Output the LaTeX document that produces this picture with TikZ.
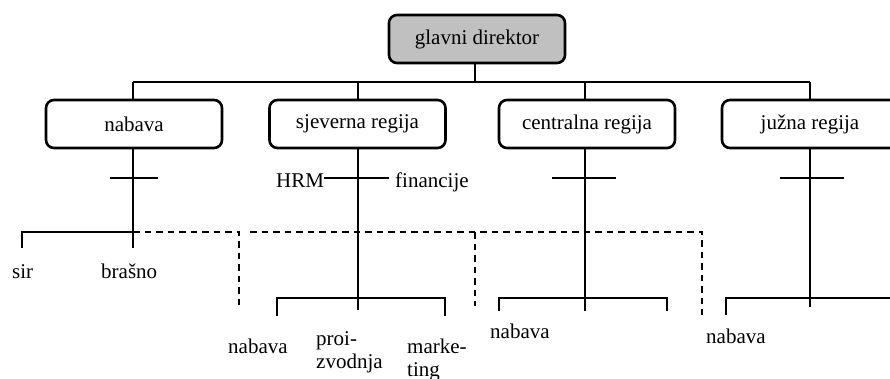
\documentclass[tikz,border=0pt]{standalone}
\usepackage{fontspec}
\setmainfont{Liberation Serif}
\begin{document}
\begin{tikzpicture}[x=1pt,y=-1pt,
  box/.style={draw, line width=2.6pt, rounded corners=8pt, minimum width=176pt, minimum height=48pt, inner sep=0pt, font=\fontsize{21}{24}\selectfont},
  lbl/.style={inner sep=0pt, anchor=base west, font=\fontsize{21}{24}\selectfont},
  conn/.style={line width=1.9pt},
  bar/.style={line width=1.5pt},
  dsh/.style={line width=1.6pt, dash pattern=on 6.5pt off 5pt}]
\useasboundingbox (0,0) rectangle (890,378);
\clip (0,0) rectangle (890,378);
% boxes
\node[box, fill={rgb,255:red,192;green,192;blue,192}] (gd) at (477,39) {glavni direktor};
\node[box] (nab) at (134,124) {nabava};
\node[box] (sje) at (357.5,124) {sjeverna regija};
\node[box] (cen) at (587,124) {centralna regija};
\node[box] (juz) at (810,124) {južna regija};
% top connectors
\coordinate (t0) at (475,82);
\coordinate (tL) at (133,82);
\coordinate (tR) at (810,82);
\draw[conn] (gd.south -| t0) -- (t0);
\draw[conn] (tL) -- (tR);
\draw[conn] (tL) -- (tL |- nab.north);
\draw[conn] (358,82) -- (358,100);
\draw[conn] (585,82) -- (585,100);
\draw[conn] (tR) -- (tR |- juz.north);
% labels
\node[lbl] (sir) at (12,278) {sir};
\node[lbl] (bra) at (101,278) {brašno};
\node[lbl] (hrm) at (276,187) {HRM};
\node[lbl] (fin) at (395,187) {financije};
\node[lbl] (sn) at (228,353) {nabava};
\node[lbl] (sp1) at (316,345) {proi-};
\node[lbl] (sp2) at (316,368) {zvodnja};
\node[lbl] (sm1) at (407,353) {marke-};
\node[lbl] (sm2) at (407,376) {ting};
\node[lbl] (cn) at (490,338) {nabava};
\node[lbl] (jn) at (706,343) {nabava};
% nabava branch
\coordinate (nb) at (133,232);
\draw[conn] (nab.south -| nb) -- (133,248);
\draw[bar] (110,178) -- (158,178);
\draw[conn] (22,248) -- (22,232) -- (nb);
% sjeverna branch
\coordinate (sb) at (358,298);
\draw[conn] (sje.south -| sb) -- (358,310);
\draw[bar] (hrm.east |- 0,178) -- (389,178);
\draw[conn] (277,316) -- (277,298) -- (445,298) -- (445,316);
% centralna branch
\coordinate (cb) at (585,298);
\draw[conn] (cen.south -| cb) -- (585,311);
\draw[bar] (552,178) -- (616,178);
\draw[conn] (499,311) -- (499,298) -- (667,298) -- (667,311);
% juzna branch
\coordinate (jb) at (810,298);
\draw[conn] (juz.south -| jb) -- (810,307);
\draw[bar] (780,178) -- (844,178);
\draw[conn] (726,315) -- (726,298) -- (895,298);
% dashed
\draw[dsh] (nb) -- (239,232) -- (239,306);
\draw[dsh] (250,232) -- (702,232) -- (702,315);
\draw[dsh] (475,232) -- (475,306);
\end{tikzpicture}
\end{document}
